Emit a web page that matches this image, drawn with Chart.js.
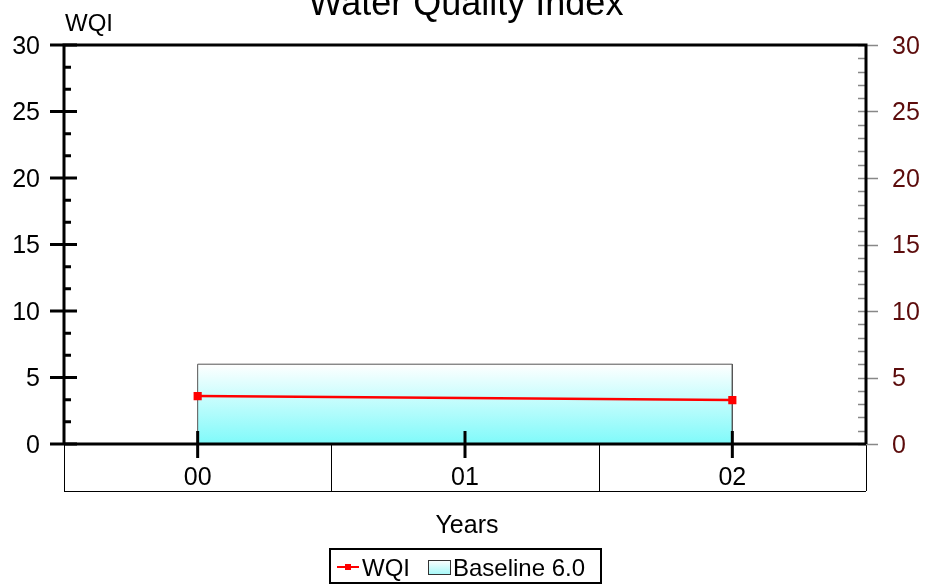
<!DOCTYPE html>
<html lang="en">
<head>
    <meta charset="UTF-8">
    <title>Water Quality Index</title>
    <script src="https://cdn.jsdelivr.net/npm/chart.js"></script>
    <style>
        body {
            margin: 0;
            background: #fff;
            font-family: 'Liberation Sans', Arial, sans-serif;
        }
        #wrap {
            width: 930px;
            height: 586px;
        }
    </style>
</head>
<body>
    <div id="wrap">
        <canvas id="wqiChart" width="930" height="586"></canvas>
    </div>

    <script>
        // data
        const years = ['00', '01', '02'];
        const wqiValues = [3.6, null, 3.3];
        const baselineValue = 6.0;
        const yTicks = [0, 5, 10, 15, 20, 25, 30];
        const chartTitle = 'Water Quality Index';
        const yAxisTitle = 'WQI';
        const xAxisTitle = 'Years';

        const FONT = "'Liberation Sans', Arial, sans-serif";

        function baselineFill(context) {
            const chart = context.chart;
            const y = chart.scales.y;
            if (!chart.chartArea) return '#c0fafa';
            const g = chart.ctx.createLinearGradient(0, y.getPixelForValue(baselineValue), 0, y.getPixelForValue(0));
            g.addColorStop(0, '#ffffff');
            g.addColorStop(1, '#7ffafa');
            return g;
        }

        // axes, frame, table and texts drawn from the scales
        const framePlugin = {
            id: 'frame',
            afterDraw(chart) {
                const ctx = chart.ctx;
                const xs = chart.scales.x;
                const ys = chart.scales.y;
                const a = chart.chartArea;
                const yMin = yTicks[0], yMax = yTicks[yTicks.length - 1];
                ctx.save();

                // table under the x axis
                ctx.strokeStyle = '#000';
                ctx.lineWidth = 1;
                const tableBottom = a.bottom + 47;
                const cellW = (a.right - a.left) / years.length;
                ctx.beginPath();
                for (let i = 0; i <= years.length; i++) {
                    const x = Math.round(a.left + i * cellW) + 0.5;
                    ctx.moveTo(x, a.bottom);
                    ctx.lineTo(x, tableBottom);
                }
                ctx.moveTo(a.left, tableBottom + 0.5);
                ctx.lineTo(a.right, tableBottom + 0.5);
                ctx.stroke();

                // right axis minor/major ticks (grey)
                ctx.strokeStyle = '#888';
                ctx.lineWidth = 1.5;
                ctx.beginPath();
                for (let v = yMin; v <= yMax; v += 1) {
                    const y = Math.round(ys.getPixelForValue(v)) + 0.5;
                    if (v % 5 === 0) {
                        ctx.moveTo(a.right - 8, y);
                        ctx.lineTo(a.right + 12, y);
                    } else {
                        ctx.moveTo(a.right - 8, y);
                        ctx.lineTo(a.right, y);
                    }
                }
                ctx.stroke();

                // left axis ticks (black)
                ctx.strokeStyle = '#000';
                ctx.lineWidth = 3;
                ctx.beginPath();
                for (let i = 0; i < yTicks.length; i++) {
                    const y = ys.getPixelForValue(yTicks[i]);
                    ctx.moveTo(a.left - 14, y);
                    ctx.lineTo(a.left + 13, y);
                    if (i < yTicks.length - 1) {
                        const step = (yTicks[i + 1] - yTicks[i]) / 3;
                        for (let k = 1; k < 3; k++) {
                            const ym = ys.getPixelForValue(yTicks[i] + k * step);
                            ctx.moveTo(a.left, ym);
                            ctx.lineTo(a.left + 7, ym);
                        }
                    }
                }
                ctx.stroke();

                // x axis major ticks
                ctx.beginPath();
                years.forEach((_, i) => {
                    const x = xs.getPixelForValue(i);
                    ctx.moveTo(x, a.bottom - 13);
                    ctx.lineTo(x, a.bottom + 14);
                });
                ctx.stroke();

                // frame: left, top, right, bottom
                ctx.beginPath();
                ctx.moveTo(a.left, a.bottom);
                ctx.lineTo(a.left, a.top);
                ctx.lineTo(a.right, a.top);
                ctx.lineTo(a.right, a.bottom);
                ctx.moveTo(a.left, a.bottom);
                ctx.lineTo(a.right, a.bottom);
                ctx.stroke();

                // tick labels
                ctx.font = '25px ' + FONT;
                ctx.textBaseline = 'middle';
                yTicks.forEach(v => {
                    const y = ys.getPixelForValue(v) + 2;
                    ctx.fillStyle = '#000';
                    ctx.textAlign = 'right';
                    ctx.fillText(String(v), a.left - 24, y);
                    ctx.fillStyle = '#5c0c0c';
                    ctx.textAlign = 'left';
                    ctx.fillText(String(v), a.right + 26, y);
                });
                ctx.fillStyle = '#000';
                ctx.textAlign = 'center';
                ctx.textBaseline = 'alphabetic';
                years.forEach((lab, i) => {
                    ctx.fillText(lab, xs.getPixelForValue(i), a.bottom + 41);
                });

                // titles
                ctx.fillText(xAxisTitle, (a.left + a.right) / 2 + 2, a.bottom + 89);
                ctx.font = '36px ' + FONT;
                ctx.fillText(chartTitle, 466, 15);
                ctx.font = '24px ' + FONT;
                ctx.textAlign = 'left';
                ctx.fillText(yAxisTitle, a.left + 1, 31);

                // legend
                const lx = 330, ly = 549;
                ctx.lineWidth = 2;
                ctx.strokeStyle = '#000';
                ctx.strokeRect(lx, ly, 271, 34);
                ctx.strokeStyle = '#ff0000';
                ctx.beginPath();
                ctx.moveTo(lx + 7, ly + 18);
                ctx.lineTo(lx + 29, ly + 18);
                ctx.stroke();
                ctx.fillStyle = '#ff0000';
                ctx.fillRect(lx + 15, ly + 15, 6, 6);
                ctx.fillStyle = '#000';
                ctx.font = '24px ' + FONT;
                ctx.fillText(chartData.datasets[0].label, lx + 32, ly + 27);
                const sw = ctx.createLinearGradient(0, ly + 11, 0, ly + 25);
                sw.addColorStop(0, '#ffffff');
                sw.addColorStop(1, '#a8f8f8');
                ctx.fillStyle = sw;
                ctx.fillRect(lx + 98, ly + 11, 22, 14);
                ctx.lineWidth = 1;
                ctx.strokeStyle = '#333';
                ctx.strokeRect(lx + 98.5, ly + 11.5, 22, 14);
                ctx.fillStyle = '#000';
                ctx.fillText(chartData.datasets[1].label, lx + 123, ly + 27);

                ctx.restore();
            }
        };

        const chartData = {
            labels: years,
            datasets: [
                {
                    label: 'WQI',
                    data: wqiValues,
                    borderColor: '#ff0000',
                    backgroundColor: '#ff0000',
                    borderWidth: 2.5,
                    pointStyle: 'rect',
                    pointRadius: 4,
                    spanGaps: true,
                    tension: 0,
                    fill: false
                },
                {
                    label: 'Baseline ' + baselineValue.toFixed(1),
                    data: [
                        { x: years[0], y: 0 },
                        { x: years[0], y: baselineValue },
                        { x: years[years.length - 1], y: baselineValue },
                        { x: years[years.length - 1], y: 0 }
                    ],
                    borderColor: '#555',
                    borderWidth: 1,
                    backgroundColor: baselineFill,
                    pointRadius: 0,
                    fill: 'origin',
                    tension: 0
                }
            ]
        };

        const ctx = document.getElementById('wqiChart').getContext('2d');
        const wqiChart = new Chart(ctx, {
            type: 'line',
            data: chartData,
            options: {
                responsive: false,
                animation: false,
                layout: {
                    padding: { left: 64, right: 64, top: 45, bottom: 142 }
                },
                plugins: {
                    legend: { display: false },
                    title: { display: false },
                    tooltip: { enabled: false }
                },
                scales: {
                    x: {
                        type: 'category',
                        labels: years,
                        offset: true,
                        display: false
                    },
                    y: {
                        min: yTicks[0],
                        max: yTicks[yTicks.length - 1],
                        display: false
                    }
                }
            },
            plugins: [framePlugin]
        });
    </script>
</body>
</html>
